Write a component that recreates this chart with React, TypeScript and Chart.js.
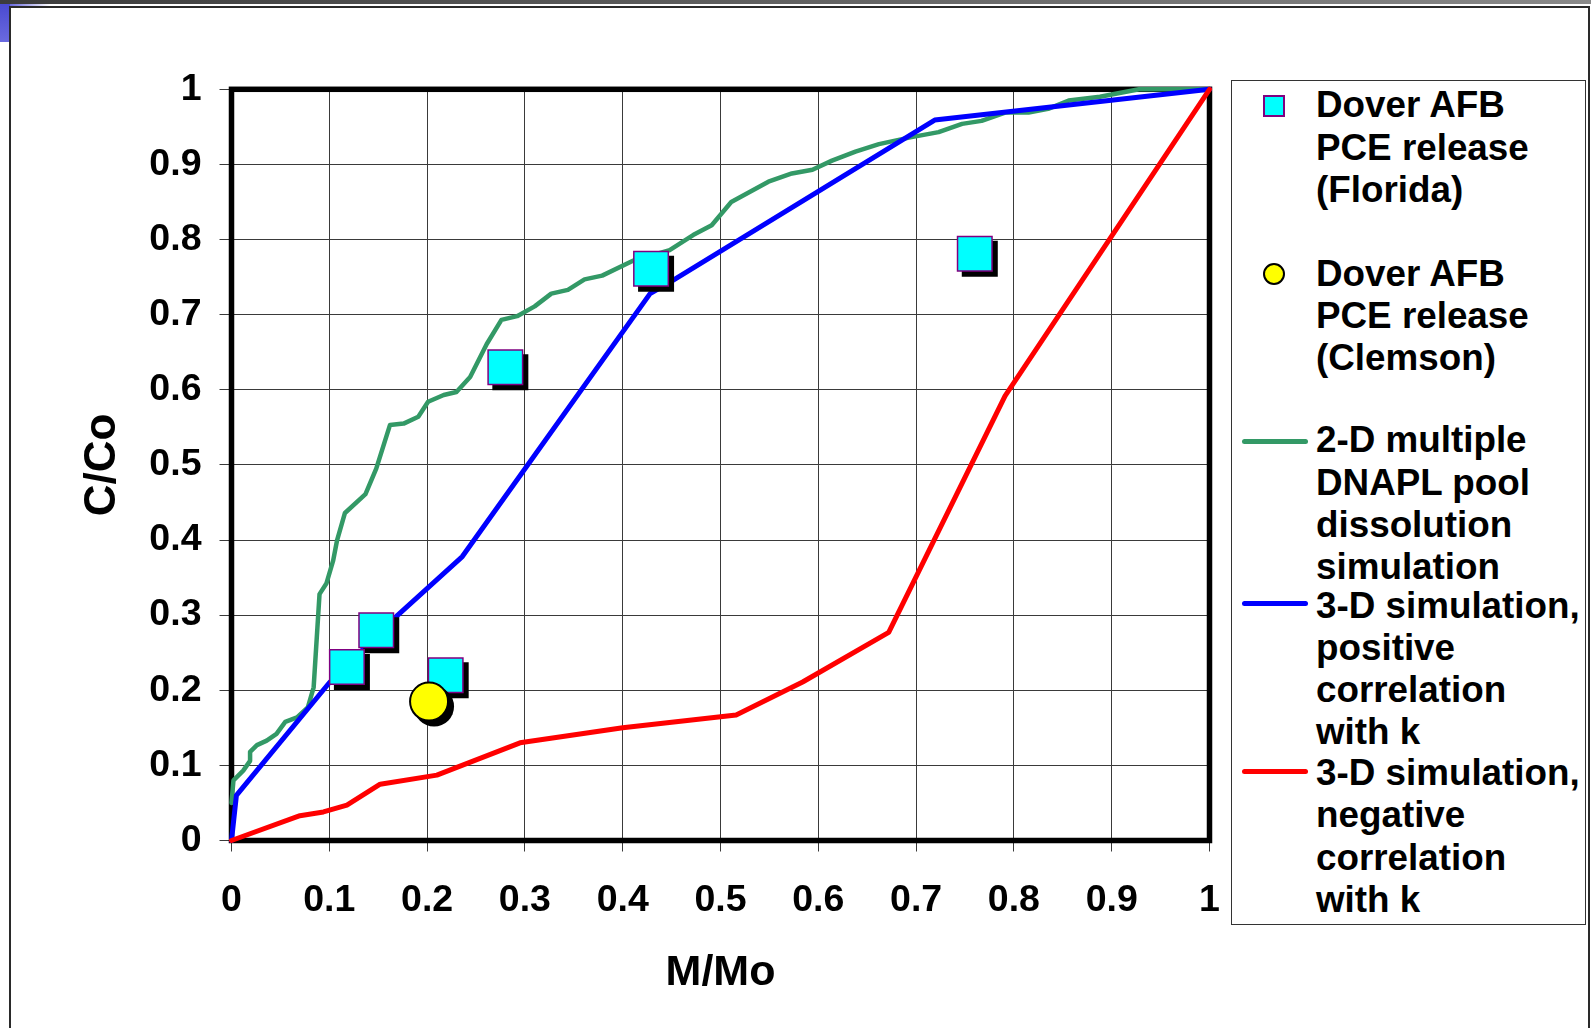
import React, { useEffect, useRef } from 'react';
import { Chart, registerables } from 'chart.js';

Chart.register(...registerables);

// ---------- data ----------
const X_TICKS = [0, 0.1, 0.2, 0.3, 0.4, 0.5, 0.6, 0.7, 0.8, 0.9, 1];
const X_TICK_LABELS = ['0', '0.1', '0.2', '0.3', '0.4', '0.5', '0.6', '0.7', '0.8', '0.9', '1'];
const Y_TICKS = [0, 0.1, 0.2, 0.3, 0.4, 0.5, 0.6, 0.7, 0.8, 0.9, 1];
const Y_TICK_LABELS = ['0', '0.1', '0.2', '0.3', '0.4', '0.5', '0.6', '0.7', '0.8', '0.9', '1'];

const X_TITLE = 'M/Mo';
const Y_TITLE = 'C/Co';

// Dover AFB PCE release (Florida)
const FLORIDA: [number, number][] = [
  [0.118, 0.231], [0.148, 0.28], [0.219, 0.22], [0.28, 0.63], [0.429, 0.761], [0.76, 0.781],
];
// Dover AFB PCE release (Clemson)
const CLEMSON: [number, number][] = [[0.202, 0.185]];

// 2-D multiple DNAPL pool dissolution simulation
const POOL_2D: [number, number][] = [
  [0, 0.05], [0.002, 0.08], [0.012, 0.093], [0.019, 0.106], [0.019, 0.118], [0.026, 0.127],
  [0.036, 0.133], [0.046, 0.142], [0.055, 0.158], [0.067, 0.164], [0.078, 0.177], [0.084, 0.204],
  [0.09, 0.328], [0.097, 0.342], [0.104, 0.373], [0.108, 0.4], [0.116, 0.436], [0.137, 0.461],
  [0.148, 0.495], [0.162, 0.553], [0.176, 0.555], [0.191, 0.564], [0.201, 0.584], [0.217, 0.593],
  [0.23, 0.597], [0.244, 0.617], [0.261, 0.661], [0.276, 0.693], [0.292, 0.698], [0.31, 0.711],
  [0.327, 0.728], [0.344, 0.733], [0.361, 0.747], [0.379, 0.752], [0.411, 0.772], [0.448, 0.786],
  [0.472, 0.806], [0.491, 0.819], [0.511, 0.85], [0.549, 0.877], [0.573, 0.888], [0.594, 0.893],
  [0.614, 0.905], [0.638, 0.917], [0.662, 0.927], [0.694, 0.936], [0.723, 0.943], [0.747, 0.954],
  [0.767, 0.958], [0.791, 0.969], [0.815, 0.969], [0.835, 0.974], [0.856, 0.985], [0.888, 0.99],
  [0.928, 1.0], [1.0, 1.0],
];
// 3-D simulation, positive correlation with k
const POS_3D: [number, number][] = [
  [0, 0], [0.005, 0.06], [0.1, 0.21], [0.17, 0.3], [0.236, 0.378], [0.428, 0.728],
  [0.448, 0.743], [0.719, 0.959], [1, 1],
];
// 3-D simulation, negative correlation with k
const NEG_3D: [number, number][] = [
  [0, 0], [0.07, 0.033], [0.094, 0.038], [0.118, 0.047], [0.152, 0.075], [0.21, 0.087],
  [0.295, 0.13], [0.4, 0.15], [0.516, 0.167], [0.584, 0.211], [0.672, 0.277], [0.791, 0.592], [1, 1],
];

const LEGEND_FLORIDA = ['Dover AFB', 'PCE release', '(Florida)'];
const LEGEND_CLEMSON = ['Dover AFB', 'PCE release', '(Clemson)'];
const LEGEND_POOL_2D = ['2-D multiple', 'DNAPL pool', 'dissolution', 'simulation'];
const LEGEND_POS_3D = ['3-D simulation,', 'positive', 'correlation', 'with k'];
const LEGEND_NEG_3D = ['3-D simulation,', 'negative', 'correlation', 'with k'];

// ---------- styles ----------
const FONT = "'Liberation Sans', Arial, Helvetica, sans-serif";
const GREEN = '#339966';
const BLUE = '#0000FF';
const RED = '#FF0000';
const CYAN = '#00FFFF';
const PURPLE = '#800080';
const YELLOW = '#FFFF00';

const toXY = (arr: [number, number][]) => arr.map(([x, y]) => ({ x, y }));

const framePlugin = {
  id: 'plotFrame',
  beforeDatasetsDraw(chart: any) {
    const { ctx, chartArea: a } = chart;
    ctx.save();
    ctx.strokeStyle = '#000';
    ctx.lineWidth = 5.5;
    ctx.lineJoin = 'miter';
    ctx.strokeRect(a.left, a.top, a.right - a.left, a.bottom - a.top);
    ctx.restore();
  },
};

const shadowPlugin = {
  id: 'markerShadow',
  beforeDatasetDraw(chart: any, args: any) {
    const ds: any = chart.data.datasets[args.index];
    if (!ds.shadowOffset) return;
    const ctx = chart.ctx;
    const off = ds.shadowOffset;
    ctx.save();
    ctx.fillStyle = '#000';
    args.meta.data.forEach((el: any) => {
      const r = ds.pointRadius;
      const bw = ds.pointBorderWidth || 0;
      ctx.beginPath();
      if (ds.pointStyle === 'rect') {
        const h = r * Math.SQRT1_2 + bw / 2;
        ctx.rect(el.x + off - h, el.y + off - h, 2 * h, 2 * h);
      } else {
        ctx.arc(el.x + off, el.y + off, r + bw / 2, 0, Math.PI * 2);
      }
      ctx.fill();
    });
    ctx.restore();
  },
};

function ChartCanvas() {
  const ref = useRef<HTMLCanvasElement | null>(null);

  useEffect(() => {
    if (!ref.current) return;
    const lineDs = (label: string, pts: [number, number][], color: string, width: number, order: number) => ({
      label,
      data: toXY(pts),
      showLine: true,
      borderColor: color,
      backgroundColor: color,
      borderWidth: width,
      pointRadius: 0,
      tension: 0,
      borderJoinStyle: 'round',
      borderCapStyle: 'round',
      clip: false,
      order,
    });

    const chart = new Chart(ref.current, {
      type: 'scatter',
      data: {
        datasets: [
          {
            label: 'Dover AFB PCE release (Clemson)',
            data: toXY(CLEMSON),
            pointStyle: 'circle',
            pointRadius: 19,
            pointBorderWidth: 2,
            pointBackgroundColor: YELLOW,
            pointBorderColor: '#000',
            showLine: false,
            clip: false,
            order: 0,
            shadowOffset: 5,
          } as any,
          {
            label: 'Dover AFB PCE release (Florida)',
            data: toXY(FLORIDA),
            pointStyle: 'rect',
            pointRadius: 24.4,
            pointBorderWidth: 1.5,
            pointBackgroundColor: CYAN,
            pointBorderColor: PURPLE,
            showLine: false,
            clip: false,
            order: 1,
            shadowOffset: 5,
          } as any,
          lineDs('3-D simulation, negative correlation with k', NEG_3D, RED, 5, 2) as any,
          lineDs('3-D simulation, positive correlation with k', POS_3D, BLUE, 5, 3) as any,
          lineDs('2-D multiple DNAPL pool dissolution simulation', POOL_2D, GREEN, 4.5, 4) as any,
        ],
      },
      options: {
        responsive: false,
        animation: false,
        events: [],
        layout: { padding: { left: 10, right: 381.5, top: 89.3, bottom: 10 } },
        plugins: {
          legend: { display: false },
          tooltip: { enabled: false },
          title: { display: false },
        },
        scales: {
          x: {
            type: 'linear',
            min: 0,
            max: 1,
            afterBuildTicks: (s: any) => {
              s.ticks = X_TICKS.map((v) => ({ value: v }));
            },
            afterFit: (s: any) => {
              s.height = 177.5;
            },
            ticks: {
              autoSkip: false,
              maxRotation: 0,
              minRotation: 0,
              padding: 27,
              color: '#000',
              font: { family: FONT, size: 37.5, weight: 'bold' },
              callback: (_v: any, i: number) => X_TICK_LABELS[i],
            },
            grid: { color: '#3a3a3a', lineWidth: 1, tickLength: 11, drawTicks: true },
            border: { display: false },
            title: {
              display: true,
              text: X_TITLE,
              color: '#000',
              font: { family: FONT, size: 43, weight: 'bold' },
              padding: { top: 0, bottom: 19 },
            },
          },
          y: {
            type: 'linear',
            min: 0,
            max: 1,
            afterBuildTicks: (s: any) => {
              s.ticks = Y_TICKS.map((v) => ({ value: v }));
            },
            afterFit: (s: any) => {
              s.width = 221.5;
            },
            ticks: {
              autoSkip: false,
              padding: 18,
              color: '#000',
              font: { family: FONT, size: 37.5, weight: 'bold' },
              callback: (_v: any, i: number) => Y_TICK_LABELS[i],
            },
            grid: { color: '#3a3a3a', lineWidth: 1, tickLength: 12, drawTicks: true },
            border: { display: false },
            title: {
              display: true,
              text: Y_TITLE,
              color: '#000',
              font: { family: FONT, size: 44, weight: 'bold' },
              padding: { top: 66, bottom: 0 },
            },
          },
        },
      } as any,
      plugins: [framePlugin, shadowPlugin],
    });
    return () => chart.destroy();
  }, []);

  return (
    <canvas
      ref={ref}
      width={1591}
      height={1028}
      style={{ position: 'absolute', left: 0, top: 0, width: 1591, height: 1028 }}
    />
  );
}

const LINE_H = 42.2;

function LegendText({ lines, centerY }: { lines: string[]; centerY: number }) {
  return (
    <div
      style={{
        position: 'absolute',
        left: 1316,
        top: centerY - LINE_H / 2 + 1,
        fontFamily: FONT,
        fontWeight: 'bold',
        fontSize: 36.8,
        lineHeight: `${LINE_H}px`,
        color: '#000',
        whiteSpace: 'nowrap',
      }}
    >
      {lines.map((l, i) => (
        <div key={i}>{l}</div>
      ))}
    </div>
  );
}

function LegendLine({ color, centerY }: { color: string; centerY: number }) {
  return (
    <div
      style={{
        position: 'absolute',
        left: 1242,
        top: centerY - 2.5,
        width: 66,
        height: 5,
        borderRadius: 2.5,
        background: color,
      }}
    />
  );
}

export default function App() {
  return (
    <div
      style={{
        position: 'fixed',
        left: 0,
        top: 0,
        width: 1591,
        height: 1028,
        background: '#fff',
        overflow: 'hidden',
      }}
    >
      {/* slide decoration */}
      <div
        style={{
          position: 'absolute',
          left: 0,
          top: 0,
          width: 1591,
          height: 4,
          background: 'linear-gradient(to right, #3c3c3c, #5a5a5a 40%, #8a8a8a)',
        }}
      />
      <div
        style={{
          position: 'absolute',
          left: 0,
          top: 4,
          width: 10,
          height: 38,
          background: 'linear-gradient(to bottom, #4a4ad0, #6a6ae0)',
        }}
      />
      <div
        style={{
          position: 'absolute',
          left: 10,
          top: 4,
          width: 40,
          height: 2,
          background: 'linear-gradient(to right, #6a6ae0, rgba(255,255,255,0))',
        }}
      />
      <div
        style={{
          position: 'absolute',
          left: 9,
          top: 5.5,
          width: 1581,
          height: 1100,
          border: '2px solid #2a2a2a',
          boxSizing: 'border-box',
        }}
      />

      <ChartCanvas />

      {/* legend */}
      <div
        style={{
          position: 'absolute',
          left: 1231,
          top: 80,
          width: 355,
          height: 845,
          border: '1px solid #333',
          boxSizing: 'border-box',
          background: '#fff',
        }}
      />
      <div
        style={{
          position: 'absolute',
          left: 1263,
          top: 95,
          width: 22,
          height: 22,
          background: CYAN,
          border: `2px solid ${PURPLE}`,
          boxSizing: 'border-box',
        }}
      />
      <LegendText lines={LEGEND_FLORIDA} centerY={104.5} />
      <div
        style={{
          position: 'absolute',
          left: 1263,
          top: 262.7,
          width: 22,
          height: 22,
          borderRadius: '50%',
          background: YELLOW,
          border: '2px solid #000',
          boxSizing: 'border-box',
        }}
      />
      <LegendText lines={LEGEND_CLEMSON} centerY={273} />
      <LegendLine color={GREEN} centerY={441} />
      <LegendText lines={LEGEND_POOL_2D} centerY={439.4} />
      <LegendLine color={BLUE} centerY={603.6} />
      <LegendText lines={LEGEND_POS_3D} centerY={604.8} />
      <LegendLine color={RED} centerY={771.8} />
      <LegendText lines={LEGEND_NEG_3D} centerY={772.2} />
    </div>
  );
}
